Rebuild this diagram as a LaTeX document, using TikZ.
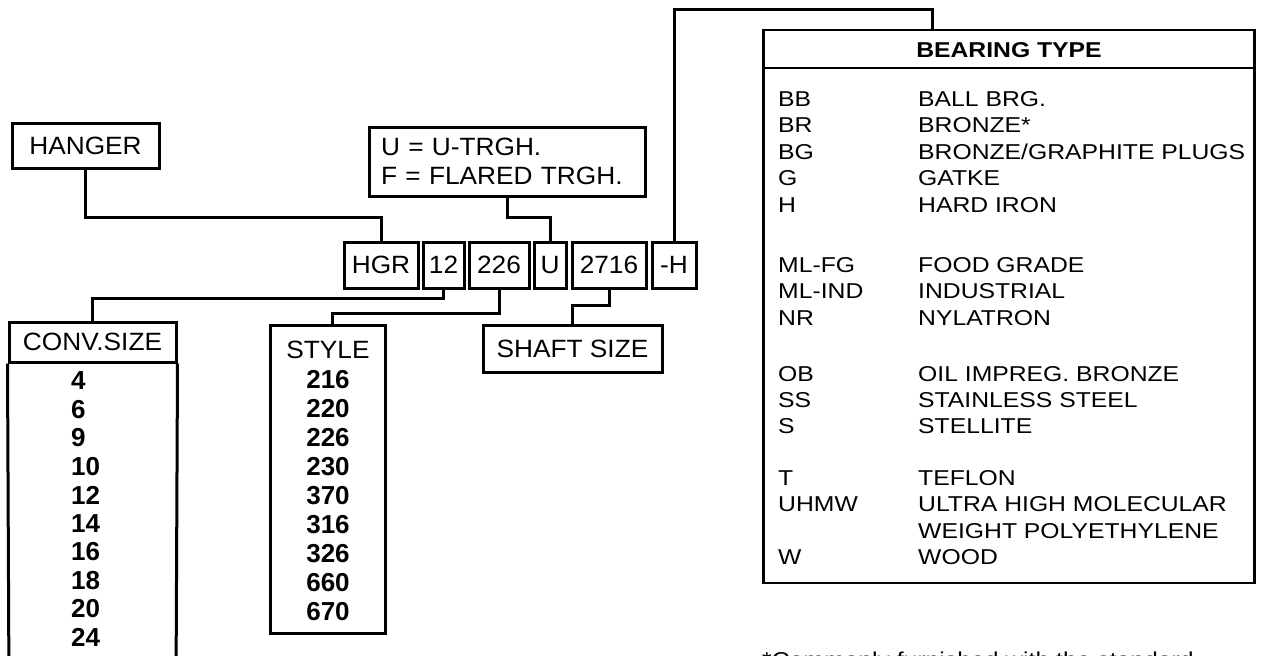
\documentclass[tikz,border=0pt]{standalone}
\usepackage{fontspec}
\setmainfont{Liberation Sans}
\newfontfamily\lblfont[FakeStretch=1.05]{Liberation Sans}
\newfontfamily\tabfont[FakeStretch=1.15]{Liberation Sans}
\begin{document}
\begin{tikzpicture}[x=1pt,y=-1pt]
\tikzset{
  lbl/.style={draw, line width=3pt, inner sep=0pt, font=\lblfont\fontsize{25}{29}\selectfont},
  cell/.style={lbl, minimum height=46pt},
  conn/.style={line width=3pt},
  num/.style={inner sep=0pt, font=\fontsize{26}{28}\selectfont\bfseries},
  btxt/.style={inner sep=0pt, anchor=base west, font=\tabfont\fontsize{21.5}{24}\selectfont},
}
\useasboundingbox (0,0) rectangle (1267,656);
\fill[white] (0,0) rectangle (1267,656);
\clip (0,0) rectangle (1267,656);

% top labels
\node[lbl, minimum width=147pt, minimum height=45pt] (hanger) at (85.5,145.5) {HANGER};
\node[lbl, minimum width=276pt, minimum height=69pt, align=left, text width=252pt] (ubox) at (507,161.5) {U = U-TRGH.\\F = FLARED TRGH.};

% code row
\node[cell, minimum width=74pt] (cHGR) at (381,265) {HGR};
\node[cell, minimum width=41pt] (c12) at (443.5,265) {12};
\node[cell, minimum width=60pt] (c226) at (499,265) {226};
\node[cell, minimum width=32pt] (cU) at (550,265) {U};
\node[cell, minimum width=74pt] (c2716) at (609,265) {2716};
\node[cell, minimum width=44pt] (cH) at (674,265) {-H};

% conv size
\node[lbl, minimum width=167pt, minimum height=40pt] (conv) at (92.5,342) {CONV.SIZE};
\draw[line width=3pt] (conv.south west) -- (9,690) -- (176,690) -- (conv.south east);
\foreach \v [count=\i from 0] in {4,6,9,10,12,14,16,18,20,24}
  \node[num, anchor=west] (cv\i) at (71,{381+28.5*\i}) {\v};

% style
\node[draw, line width=3pt, minimum width=115pt, minimum height=308pt, inner sep=0pt] (style) at (327.5,479) {};
\node[inner sep=0pt, font=\lblfont\fontsize{25}{29}\selectfont] (stylehead) at (328,350) {STYLE};
\foreach \v [count=\i from 0] in {216,220,226,230,370,316,326,660,670}
  \node[num] (sv\i) at (328,{380+29*\i}) {\v};

% shaft
\node[lbl, minimum width=179pt, minimum height=47pt] (shaft) at (572.5,348.5) {SHAFT SIZE};

% bearing table
\node[draw, line width=2.6pt, minimum width=491pt, minimum height=553pt, inner sep=0pt] (bear) at (1009,306.5) {};
\coordinate (hl) at (0,68);
\draw[line width=2pt] (bear.west |- hl) -- (bear.east |- hl);
\node[inner sep=0pt, font=\tabfont\bfseries\fontsize{21.5}{24}\selectfont] (bhead) at (1009,50) {BEARING TYPE};
\foreach \c/\d/\y [count=\i] in {
  {BB}/{BALL BRG.}/106,
  {BR}/{BRONZE*}/132.5,
  {BG}/{BRONZE{/}GRAPHITE PLUGS}/159,
  {G}/{GATKE}/185.5,
  {H}/{HARD IRON}/212,
  {ML-FG}/{FOOD GRADE}/272,
  {ML-IND}/{INDUSTRIAL}/298.5,
  {NR}/{NYLATRON}/325,
  {OB}/{OIL IMPREG. BRONZE}/381,
  {SS}/{STAINLESS STEEL}/407,
  {S}/{STELLITE}/433,
  {T}/{TEFLON}/485,
  {UHMW}/{ULTRA HIGH MOLECULAR}/511.5,
  {}/{WEIGHT POLYETHYLENE}/538,
  {W}/{WOOD}/564.5}
{
  \node[btxt] (bc\i) at (778,\y) {\c};
  \node[btxt] (bd\i) at (918,\y) {\d};
}

% note (cut off at bottom, as in the reference)
\node[btxt] (note) at (762,667) {*Commonly furnished with the standard};

% connectors
\coordinate (btop) at (932,30);
\coordinate (styletop) at (332,325);
\draw[conn] (hanger.south) |- (381,217) -- (cHGR.north);
\draw[conn] (ubox.south) |- (550,217) -- (cU.north);
\draw[conn] (cH.north) |- (932,9) -- (btop);
\draw[conn] (c12.south) |- (92.5,298) -- (conv.north);
\draw[conn] (c226.south) |- (332,313) -- (styletop);
\draw[conn] (c2716.south) |- (572.5,305) -- (shaft.north);
\end{tikzpicture}
\end{document}
